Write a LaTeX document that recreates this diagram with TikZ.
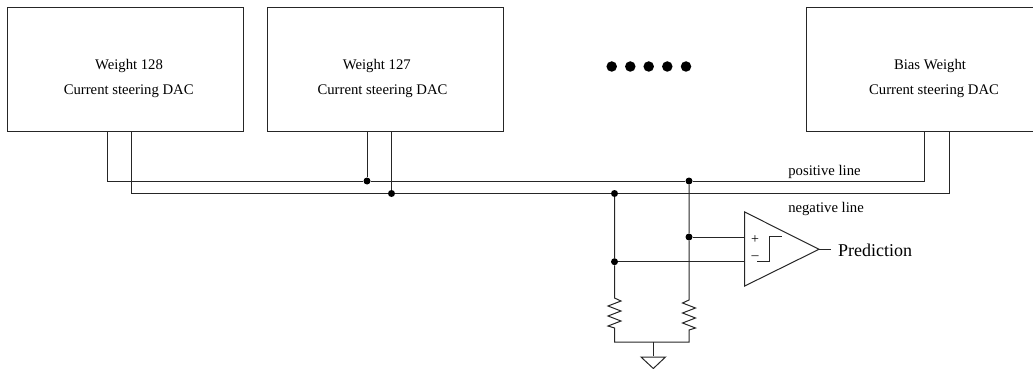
\documentclass[tikz,border=0pt]{standalone}
\usepackage{fontspec}
\setmainfont{Liberation Serif}
\tikzset{
  x=1pt,y=-1pt,
  wire/.style={draw=black!85,line width=1pt,line join=miter},
  dacbox/.style={draw=black!85,line width=1pt,fill=white,inner sep=0pt,anchor=north west},
  lbl/.style={font=\fontsize{14.7}{17}\selectfont,inner sep=0pt,anchor=center},
  jdot/.style={circle,fill=black,inner sep=0pt,minimum size=7pt},
  bigdot/.style={circle,fill=black,inner sep=0pt,minimum size=10.5pt},
}
\begin{document}
\begin{tikzpicture}
\useasboundingbox (0,0) rectangle (1033,369);
% boxes
\node[dacbox,minimum width=235.5pt,minimum height=124pt] (b1) at (7.2,7.2) {};
\node[dacbox,minimum width=235.5pt,minimum height=124pt] (b2) at (267.2,7.2) {};
\node[dacbox,minimum width=232pt,minimum height=124pt] (b3) at (806.4,7.2) {};
\node[lbl] (t1a) at (129,66) {Weight 128};
\node[lbl] (t1b) at (128.7,91.5) {Current steering DAC};
\node[lbl] (t2a) at (376.8,66) {Weight 127};
\node[lbl] (t2b) at (382.5,91.5) {Current steering DAC};
\node[lbl] (t3a) at (930,66) {Bias Weight};
\node[lbl] (t3b) at (934,91.5) {Current steering DAC};
\node[lbl] (pl) at (824.5,172) {positive line};
\node[lbl] (nl) at (826,208.5) {negative line};
% ellipsis
\foreach \i/\x in {1/611.7,2/630.3,3/648.7,4/667.3,5/686} \node[bigdot] (e\i) at (\x,66.5) {};
% junctions
\node[jdot] (j1) at (367,181) {};
\node[jdot] (j2) at (391.5,193.5) {};
\node[jdot] (j3) at (614.5,193.5) {};
\node[jdot] (j4) at (689,181) {};
\node[jdot] (j5) at (689,237) {};
\node[jdot] (j6) at (614.5,261.7) {};
% bus wires
\draw[wire] (107,131) -- (107,181) -- (j1) -- (j4) -- (924.7,181) -- (924.7,131);
\draw[wire] (131.5,131) -- (131.5,193.5) -- (j2) -- (j3) -- (949.3,193.5) -- (949.3,131);
\draw[wire] (367,131) -- (j1);
\draw[wire] (391.5,131) -- (j2);
% comparator
\coordinate (ca) at (744.7,212);
\coordinate (cb) at (744.7,286);
\coordinate (cc) at (819,249.3);
\draw[wire] (ca) -- (cc) -- (cb) -- cycle;
\coordinate (ip) at (744.7,237);
\coordinate (in) at (744.7,261.7);
\draw[wire] (j5) -- (ip);
\draw[wire] (j6) -- (in);
\coordinate (po) at (831,249.3);
\draw[wire] (cc) -- (po);
\node[lbl,font=\fontsize{18}{20}\selectfont,anchor=west] (pred) at (838,250) {Prediction};
\node[lbl,font=\fontsize{14}{15}\selectfont] (plus) at (755,239.3) {+};
\node[lbl,font=\fontsize{14}{15}\selectfont] (minus) at (755,258) {–};
\draw[wire] (757,261.7) -- (769,261.7) -- (769,236.7) -- (781.7,236.7);
% resistors
\coordinate (g) at (653.3,342);
\draw[wire] (j3) -- (j6) -- (614.5,298) -- ++(6.5,3) -- ++(-13,5) -- ++(13,5) -- ++(-13,5) -- ++(13,5) -- ++(-13,5) -- ++(6.5,2) -- (614.5,342) -- (689,342)
  -- (689,330) -- ++(6.5,-2) -- ++(-13,-5) -- ++(13,-5) -- ++(-13,-5) -- ++(13,-5) -- ++(-13,-5) -- ++(6.5,-3) -- (j5) -- (j4);
% ground
\draw[wire] (g) -- (653.3,356);
\draw[wire] (641,357) -- (665.5,357) -- (653.3,368.5) -- cycle;
\end{tikzpicture}
\end{document}
